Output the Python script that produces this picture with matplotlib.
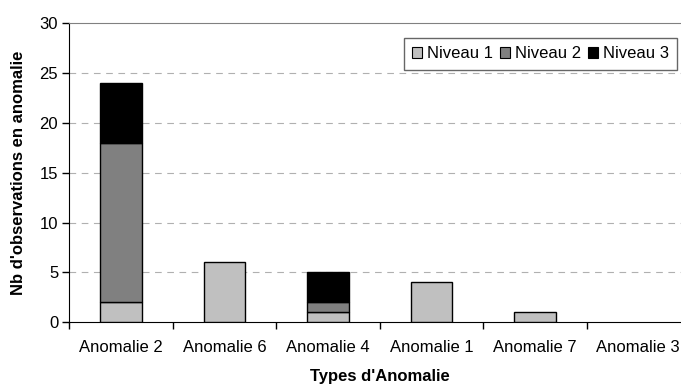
import numpy as np
import matplotlib.pyplot as plt
from matplotlib.patches import Patch

plt.rcParams["font.family"] = ["Liberation Sans", "DejaVu Sans"]

categories = ["Anomalie 2", "Anomalie 6", "Anomalie 4", "Anomalie 1", "Anomalie 7", "Anomalie 3"]
niveau1 = [2, 6, 1, 4, 1, 0]
niveau2 = [16, 0, 1, 0, 0, 0]
niveau3 = [6, 0, 3, 0, 0, 0]

series = [("Niveau 1", niveau1, "#c0c0c0"),
          ("Niveau 2", niveau2, "#808080"),
          ("Niveau 3", niveau3, "#000000")]

fig = plt.figure(figsize=(6.81, 3.87), dpi=100)
ax = fig.add_axes([0.1018, 0.1672, 0.9114, 0.7726])

x = np.arange(len(categories))
bottom = np.zeros(len(categories))
for name, vals, col in series:
    vals = np.array(vals, dtype=float)
    mask = vals > 0
    ax.bar(x[mask], vals[mask], bottom=bottom[mask], width=0.4, color=col,
           edgecolor="black", linewidth=1.0, zorder=3)
    bottom += vals

ax.set_xlim(-0.5, len(categories) - 0.5)
ax.set_ylim(0, 30)
ax.set_yticks(np.arange(0, 31, 5))

# graduations entre les catégories, libellés au centre
ax.set_xticks(np.arange(-0.5, len(categories), 1.0))
ax.set_xticklabels([])
ax.set_xticks(x, minor=True)
ax.set_xticklabels(categories, minor=True, fontsize=12)
ax.tick_params(axis="x", which="minor", length=0, pad=13)
ax.tick_params(axis="x", which="major", length=5, width=1, direction="out")
ax.tick_params(axis="y", length=5, width=1, direction="out", labelsize=12, pad=3)

for y in range(5, 30, 5):
    ax.axhline(y, color="#b0b0b0", lw=0.8, ls=(0, (6, 5)), zorder=1)

ax.spines["left"].set_color("black")
ax.spines["bottom"].set_color("black")
ax.spines["top"].set_color("#808080")
ax.spines["right"].set_visible(False)

ax.set_ylabel("Nb d'observations en anomalie", fontsize=12, fontweight="bold", labelpad=10)
ax.set_xlabel("Types d'Anomalie", fontsize=12, fontweight="bold", labelpad=10)

handles = [Patch(facecolor=col, edgecolor="black", linewidth=0.8, label=name)
           for name, _, col in series]
leg = fig.legend(handles=handles, loc="upper right", bbox_to_anchor=(0.994, 0.902),
                 ncol=3, fontsize=12, frameon=True, fancybox=False,
                 handlelength=0.6, handleheight=0.6, handletextpad=0.3,
                 columnspacing=0.4, borderpad=0.5, borderaxespad=0)
leg.get_frame().set_edgecolor("#404040")
leg.get_frame().set_linewidth(1.0)

fig.savefig("out.png", dpi=100)
